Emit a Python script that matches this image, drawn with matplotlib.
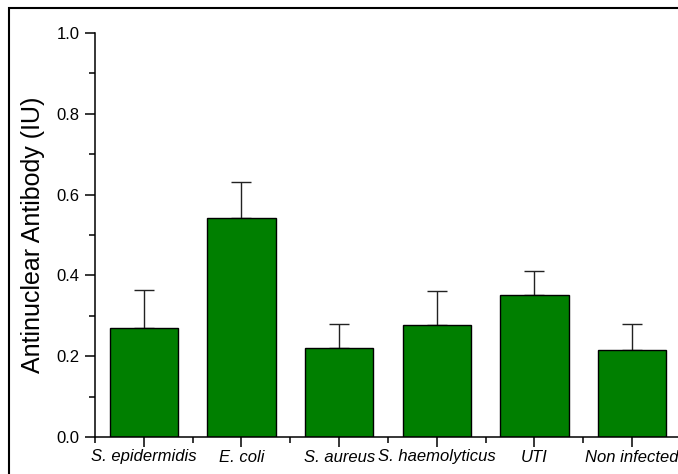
import matplotlib
matplotlib.use('Agg')
import matplotlib.pyplot as plt
from matplotlib.patches import Rectangle
from matplotlib.ticker import MultipleLocator
import numpy as np

# groups and ANA values
groups = ['S. epidermidis', 'E. coli', 'S. aureus', 'S. haemolyticus', 'UTI', 'Non infected']
means = [0.270, 0.542, 0.221, 0.276, 0.352, 0.215]
upper_err = [0.094, 0.089, 0.059, 0.086, 0.059, 0.065]

plt.rcParams['font.family'] = ['Liberation Sans', 'DejaVu Sans']

fig = plt.figure(figsize=(6.78, 4.74), dpi=100)
ax = fig.add_axes([95/678, 37/474, 1 - 95/678, 404/474])

x = np.arange(1, len(groups) + 1)
ax.bar(x, means, width=0.7, color='#007F00', edgecolor='black', linewidth=1.0, zorder=2)
ax.errorbar(x, means, yerr=[np.zeros(len(means)), upper_err], fmt='none',
            ecolor='#222222', elinewidth=1.0, capsize=7, capthick=1.0, zorder=1)

ax.set_xlim(0.5, 6.47)
ax.set_ylim(0, 1.0)
ax.set_xticks(x)
ax.set_xticklabels(groups, fontsize=12, style='italic')
ax.xaxis.set_minor_locator(MultipleLocator(0.5))
ax.yaxis.set_major_locator(MultipleLocator(0.2))
ax.yaxis.set_minor_locator(MultipleLocator(0.1))
ax.yaxis.set_major_formatter(matplotlib.ticker.FormatStrFormatter('%.1f'))
ax.tick_params(axis='both', which='major', direction='out', length=7, width=1.1, labelsize=12)
ax.tick_params(axis='both', which='minor', direction='out', length=4, width=1.1)
ax.tick_params(axis='x', pad=2)
ax.tick_params(axis='y', pad=4)
for s in ['left', 'bottom']:
    ax.spines[s].set_linewidth(1.1)
ax.spines['top'].set_visible(False)
ax.spines['right'].set_visible(False)
ax.set_ylabel('Antinuclear Antibody (IU)', fontsize=18, labelpad=8)

# outer frame of the original figure
fig.patches.append(Rectangle((9/678, -0.1), 1.2, 1 - 8/474 + 0.1, transform=fig.transFigure,
                             fill=False, edgecolor='black', linewidth=1.5, clip_on=False))

fig.savefig('out.png', dpi=100)
